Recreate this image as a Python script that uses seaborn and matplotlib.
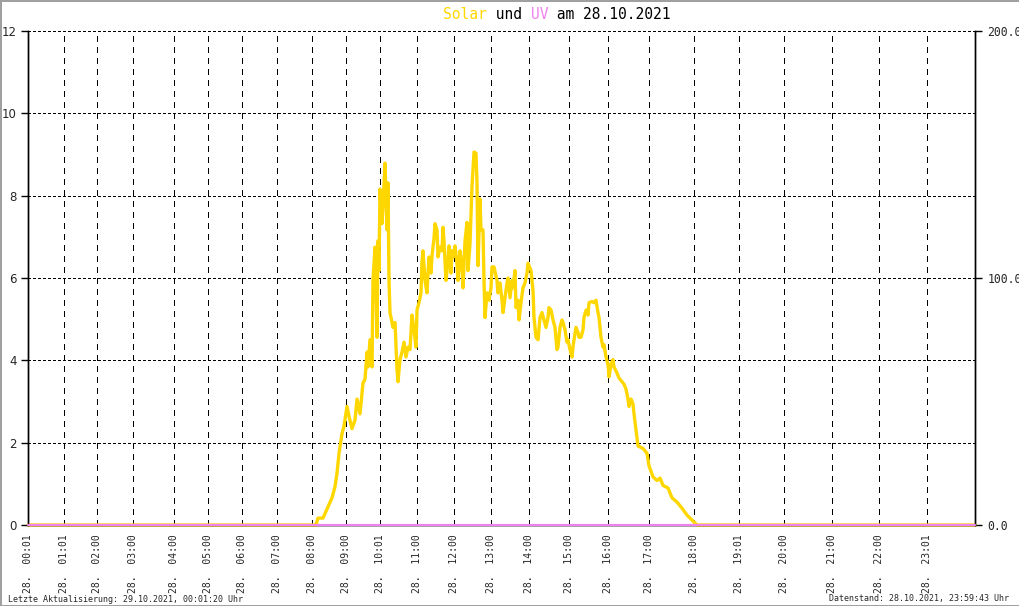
import pandas as pd
import seaborn as sns
import matplotlib.pyplot as plt

# chart texts
title_parts = [("Solar", "#FFD700"), (" und ", "black"), ("UV", "#EE82EE"), (" am 28.10.2021", "black")]
footer_left = "Letzte Aktualisierung: 29.10.2021, 00:01:20 Uhr"
footer_right = "Datenstand: 28.10.2021, 23:59:43 Uhr"
day_prefix = "28."

# x axis is the sample number of the logger, hours are not evenly spaced
hour_samples = [0, 36, 69, 105, 146, 180, 214, 249, 284, 318, 352, 389,
                426, 463, 501, 541, 580, 621, 666, 711, 756, 804, 851, 899]
hour_labels = ["00:01", "01:01", "02:00", "03:00", "04:00", "05:00", "06:00", "07:00",
               "08:00", "09:00", "10:01", "11:00", "12:00", "13:00", "14:00", "15:00",
               "16:00", "17:00", "18:00", "19:01", "20:00", "21:00", "22:00", "23:01"]
last_sample = 947

# solar radiation (W/m2, right axis)
solar_sample = [0, 288, 290, 295, 300, 304, 307, 309, 311, 314, 316, 319, 321, 324, 327, 329,
                332, 335, 337, 339, 340, 342, 344, 345, 347, 349, 350, 351, 352, 354, 355, 357,
                359, 360, 361, 362, 365, 367, 369, 370, 372, 374, 376, 378, 380, 382, 384, 386,
                388, 389, 391, 393, 394, 395, 397, 399, 400, 401, 403, 404, 406, 407, 409, 410,
                412, 414, 415, 416, 418, 420, 421, 423, 424, 425, 427, 429, 430, 432, 434, 435,
                437, 439, 440, 442, 443, 444, 446, 448, 449, 450, 452, 453, 455, 456, 457, 459,
                461, 463, 464, 466, 469, 470, 472, 474, 475, 477, 479, 480, 482, 484, 485, 487,
                488, 490, 491, 493, 495, 497, 499, 500, 503, 505, 506, 508, 510, 512, 514, 516,
                518, 520, 521, 523, 525, 527, 529, 530, 532, 534, 535, 537, 539, 540, 542, 544,
                545, 546, 548, 550, 551, 553, 555, 556, 558, 560, 561, 564, 566, 568, 570, 571,
                573, 575, 576, 578, 580, 581, 583, 585, 586, 589, 591, 594, 596, 598, 600, 601,
                603, 605, 606, 608, 610, 615, 619, 621, 625, 629, 632, 635, 640, 644, 649, 654,
                659, 664, 669, 947]
solar_wm2 = [0, 0, 2.8, 2.8, 7.3, 11, 15.5, 21, 29, 37, 40, 48, 44, 39, 42.5, 51,
             45, 57.5, 59, 70, 64, 75, 64, 99, 112.5, 76, 115, 103, 136, 122, 129, 146.5,
             119.5, 138.5, 99, 86, 80, 82, 63, 58, 67, 70, 74, 68, 72, 71, 85, 79,
             72, 87, 90, 94, 106.5, 111, 99, 94, 102, 108.5, 102, 109, 116, 122, 119.5, 108.5,
             112.5, 111, 120.5, 115, 99, 107, 113, 102, 111, 108.5, 113, 106, 99, 111, 104.5, 96,
             115, 122.5, 103, 114, 125.5, 137, 151, 150.5, 138.5, 105, 132, 119.5, 119.5, 99, 84, 94,
             91, 96, 104.5, 104.5, 99, 94, 98, 91, 86, 92, 98, 100, 92, 99, 96, 103,
             88, 91, 83, 90, 96, 98, 102, 106, 103, 95, 84, 76, 75, 84, 86, 83,
             80, 84, 88, 87, 83, 80, 71, 72, 80, 83, 82, 79, 74, 75, 71, 68,
             72, 75, 80, 78, 76, 76, 79, 84, 87, 85, 90, 90.5, 90, 91, 86, 84,
             76, 72, 73, 68, 65, 60, 65, 67, 64, 61.5, 59.5, 58, 57, 55, 51, 48,
             51, 49, 45, 38.5, 32, 31, 29, 24, 19.5, 18, 19, 16, 15, 11, 9.3, 6.8,
             4, 2, 0, 0]

# UV index (left axis), zero all day
uv_sample = [0, last_sample]
uv_index = [0, 0]

uv_ticks = [0, 2, 4, 6, 8, 10, 12]
solar_ticks = [0, 100, 200]

solar_color = "#FFD700"
uv_color = "#EE82EE"

sns.set_style("white")
plt.rcParams["font.family"] = ["DejaVu Sans Mono", "DejaVu Sans"]

W, H = 1020, 606
fig = plt.figure(figsize=(W / 100, H / 100), dpi=100, linewidth=2, edgecolor="#a0a0a0")
ax = fig.add_axes([28 / W, 1 - 525 / H, 947 / W, 494 / H])
ax2 = ax.twinx()
# left axis (UV) on top, solar and grid behind it
ax.set_zorder(ax2.get_zorder() + 1)
ax.patch.set_visible(False)

df_solar = pd.DataFrame({"sample": solar_sample, "solar": solar_wm2})
df_uv = pd.DataFrame({"sample": uv_sample, "uv": uv_index})
sns.lineplot(data=df_solar, x="sample", y="solar", ax=ax2, color=solar_color,
             lw=2.4, estimator=None, sort=False, clip_on=False, zorder=3)
sns.lineplot(data=df_uv, x="sample", y="uv", ax=ax, color=uv_color,
             lw=1.6, estimator=None, sort=False, clip_on=False, zorder=3)

ax.set_xlim(0, last_sample)
ax.set_ylim(uv_ticks[0], uv_ticks[-1])
ax2.set_ylim(solar_ticks[0], solar_ticks[-1])
for a in (ax, ax2):
    a.set_xlabel("")
    a.set_ylabel("")
    a.spines["top"].set_visible(False)
    for s in a.spines.values():
        s.set_color("black")
        s.set_linewidth(1)

ax.set_xticks(hour_samples)
ax.set_xticklabels([f"{day_prefix}  {h}" for h in hour_labels], rotation=90, fontsize=7)
ax.tick_params(axis="x", length=0, pad=7)
ax.set_yticks(uv_ticks)
ax.set_yticklabels([str(t) for t in uv_ticks], fontsize=8.5, family="DejaVu Sans")
ax.tick_params(axis="y", direction="out", length=5, width=1, color="black", pad=3)

ax2.set_yticks(solar_ticks)
ax2.set_yticklabels([f"{t:.1f}" for t in solar_ticks], fontsize=8.3)
ax2.tick_params(axis="y", which="major", direction="out", length=5, width=1, color="black", pad=4)

# grid on the back axes so the solar curve is drawn over it
ax2.xaxis.set_visible(True)
ax2.tick_params(axis="x", which="both", bottom=False, top=False, labelbottom=False, labeltop=False)
ax2.grid(axis="x", color="black", lw=0.75, ls=(0, (5, 5)), antialiased=False)
ax2.yaxis.remove_overlapping_locs = False
ax2.set_yticks([t * solar_ticks[-1] / uv_ticks[-1] for t in uv_ticks], minor=True)
ax2.tick_params(axis="y", which="minor", length=0)
ax2.grid(axis="y", which="minor", color="black", lw=0.75, ls=(0, (2.6, 2.6)), antialiased=False)

# coloured title pieces, each one placed right after the previous one
t = fig.text(443 / W, 1 - 22 / H, title_parts[0][0], color=title_parts[0][1],
             fontsize=10.5, va="bottom")
for text, col in title_parts[1:]:
    t = ax.annotate(text, xy=(1, 0), xycoords=t, color=col, fontsize=10.5,
                    va="bottom", annotation_clip=False)

fig.text(8 / W, 1 - 599 / H, footer_left, fontsize=6, va="center")
fig.text(1009 / W, 1 - 599 / H, footer_right, fontsize=6, va="center", ha="right")

fig.savefig("out.png", dpi=100)
